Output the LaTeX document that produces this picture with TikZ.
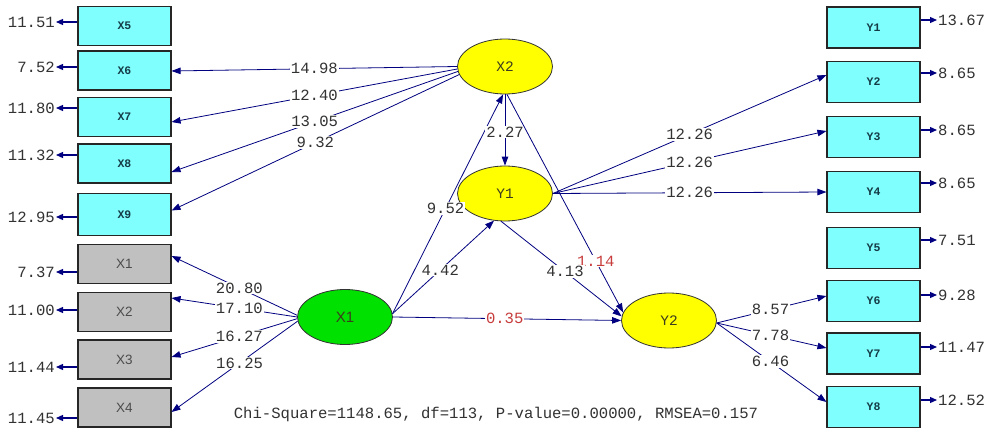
\documentclass[tikz,border=0pt]{standalone}
\usepackage{fontspec}
\setmainfont{Liberation Mono}
\newfontfamily\arialf{Liberation Sans}
\usetikzlibrary{arrows.meta,shapes.geometric}
\definecolor{lnavy}{RGB}{0,0,128}
\definecolor{cyanfill}{RGB}{128,255,255}
\definecolor{grayfill}{RGB}{192,192,192}
\definecolor{greenfill}{RGB}{0,225,0}
\definecolor{yellowfill}{RGB}{255,255,0}
\definecolor{numtext}{RGB}{50,50,50}
\definecolor{redtext}{RGB}{200,60,60}
\definecolor{boxtext}{RGB}{20,60,70}
\definecolor{lattext}{RGB}{60,60,30}
\begin{document}
\begin{tikzpicture}[x=1pt,y=-1pt,
  obsbox/.style={draw=black!85, line width=1.1pt, fill=cyanfill, minimum width=93pt, minimum height=39pt, inner sep=0pt, font=\fontsize{11.5}{11.5}\selectfont\bfseries, text=boxtext},
  obsboxr/.style={obsbox, minimum height=41pt},
  grybox/.style={obsbox, fill=grayfill, font=\arialf\fontsize{13.5}{13.5}\selectfont, text=black!70},
  lat/.style={ellipse, draw=black!80, line width=0.8pt, fill=yellowfill, minimum width=95pt, minimum height=55pt, inner sep=0pt, font=\fontsize{14.5}{14.5}\selectfont, text=lattext},
  pth/.style={draw=lnavy, line width=0.8pt, -{Triangle[length=9pt,width=6.5pt]}},
  lab/.style={fill=white, inner sep=1pt, font=\fontsize{15.6}{15.6}\selectfont, text=numtext},
  rlab/.style={lab, text=redtext},
  errarr/.style={draw=lnavy, line width=1.2pt, -{Triangle[length=7pt,width=6pt]}},
  errlab/.style={inner sep=1pt, font=\fontsize{15.6}{15.6}\selectfont, text=numtext}
]
\useasboundingbox[fill=white] (0,0) rectangle (989,428);

% left observed boxes
\node[obsbox] (bx5) at (124.5,26) {X5};
\node[obsbox] (bx6) at (124.5,70.5) {X6};
\node[obsbox] (bx7) at (124.5,117) {X7};
\node[obsbox] (bx8) at (124.5,163.5) {X8};
\node[obsbox, minimum height=42pt] (bx9) at (124.5,214.5) {X9};
\node[grybox] (bx1) at (124.5,264) {X1};
\node[grybox] (bx2) at (124.5,312) {X2};
\node[grybox] (bx3) at (124.5,359.5) {X3};
\node[grybox] (bx4) at (124.5,407.5) {X4};

% right observed boxes
\node[obsboxr] (by1) at (873.5,27.5) {Y1};
\node[obsboxr] (by2) at (873.5,82) {Y2};
\node[obsboxr] (by3) at (873.5,137) {Y3};
\node[obsboxr] (by4) at (873.5,192) {Y4};
\node[obsboxr] (by5) at (873.5,248) {Y5};
\node[obsboxr] (by6) at (873.5,301) {Y6};
\node[obsboxr] (by7) at (873.5,353.5) {Y7};
\node[obsboxr] (by8) at (873.5,407) {Y8};

% latent variables
\node[lat] (lx2) at (505,66.5) {X2};
\node[lat] (ly1) at (505,193.5) {Y1};
\node[lat, fill=greenfill, font=\arialf\fontsize{15}{15}\selectfont] (lx1) at (345,317) {X1};
\node[lat] (ly2) at (669,320.5) {Y2};

% error terms, left
\foreach \b/\y/\v in {bx5/22/11.51, bx6/67/7.52, bx7/108/11.80, bx8/155/11.32, bx9/217/12.95, bx1/272/7.37, bx2/310/11.00, bx3/367/11.44, bx4/418/11.45}{
  \node[errlab, anchor=east] (e\b) at (56,\y) {\v};
  \draw[errarr] (\b.west |- e\b.east) -- (e\b.east);
}
% error terms, right
\foreach \b/\y/\v in {by1/20/13.67, by2/73/8.65, by3/130/8.65, by4/183/8.65, by5/240/7.51, by6/295/9.28, by7/347/11.47, by8/400/12.52}{
  \node[errlab, anchor=west] (e\b) at (937,\y) {\v};
  \draw[errarr] (\b.east |- e\b.west) -- (e\b.west);
}

% X2 loadings
\draw[pth] (lx2.180) -- node[lab, pos=0.5] {14.98} ([yshift=-0.5pt]bx6.east);
\draw[pth] (lx2.183) -- node[lab, pos=0.5] {12.40} ([yshift=-5pt]bx7.east);
\draw[pth] (lx2.186) -- node[lab, pos=0.5] {13.05} ([yshift=-8.5pt]bx8.east);
\draw[pth] (lx2.190) -- node[lab, pos=0.5] {9.32} ([yshift=4pt]bx9.east);

% X1 loadings
\draw[pth] (lx1.178) -- node[lab, pos=0.46] {20.80} ([yshift=8pt]bx1.east);
\draw[pth] (lx1.180) -- node[lab, pos=0.46] {17.10} ([yshift=14pt]bx2.east);
\draw[pth] (lx1.182) -- node[lab, pos=0.46] {16.27} ([yshift=2.5pt]bx3.east);
\draw[pth] (lx1.185) -- node[lab, pos=0.46] {16.25} ([yshift=-4.5pt]bx4.east);

% Y1 loadings
\draw[pth] (ly1.east) -- node[lab, pos=0.5] {12.26} ([yshift=7pt]by2.west);
\draw[pth] (ly1.east) -- node[lab, pos=0.5] {12.26} ([yshift=6pt]by3.west);
\draw[pth] (ly1.east) -- node[lab, pos=0.5] {12.26} (by4.west);

% Y2 loadings
\draw[pth] (ly2.-3) -- node[lab, pos=0.49] {8.57} ([yshift=5pt]by6.west);
\draw[pth] (ly2.-3) -- node[lab, pos=0.49] {7.78} ([yshift=5.5pt]by7.west);
\draw[pth] (ly2.-3) -- node[lab, pos=0.49] {6.46} ([yshift=5pt]by8.west);

% structural paths
\draw[pth] (lx1.4) -- node[lab, pos=0.48] {9.52} (lx2.266);
\draw[pth] (lx1.4) -- node[lab, pos=0.47] {4.42} (ly1.248);
\draw[pth] (lx1.east) -- node[rlab, pos=0.49] {0.35} (ly2.180);
\draw[pth] (lx2.south) -- node[lab, pos=0.53] {2.27} (ly1.north);
\draw[pth] (lx2.274) -- node[rlab, pos=0.765] {1.14} (ly2.170);
\draw[pth] (ly1.262) -- node[lab, pos=0.53] {4.13} (ly2.175);

% fit statistics
\node[errlab] (fit) at (496,414) {Chi-Square=1148.65, df=113, P-value=0.00000, RMSEA=0.157};
\end{tikzpicture}
\end{document}
